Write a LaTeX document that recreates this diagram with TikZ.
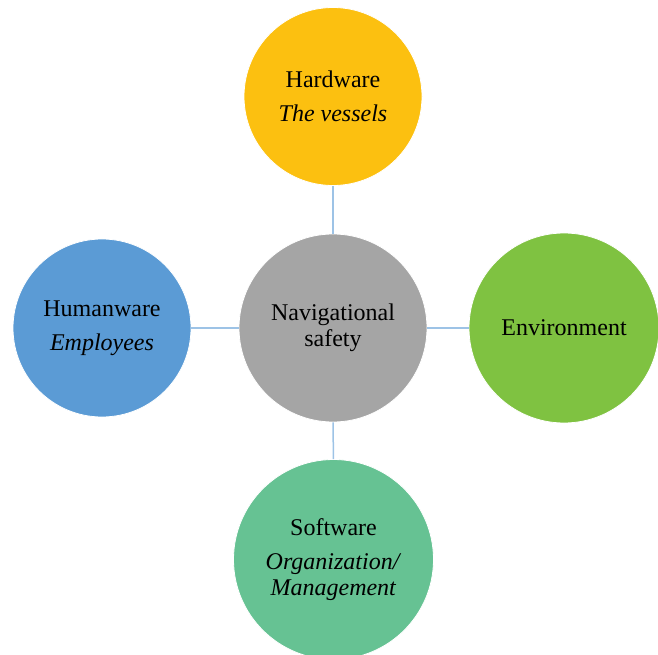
\documentclass[tikz,border=0pt]{standalone}
\usepackage{fontspec}
\setmainfont{Liberation Serif}
\usetikzlibrary{positioning}
\definecolor{hardyellow}{HTML}{FCC010}
\definecolor{navgray}{HTML}{A5A5A5}
\definecolor{humanblue}{HTML}{5B9BD5}
\definecolor{envgreen}{HTML}{7FC241}
\definecolor{softgreen}{HTML}{66C293}
\definecolor{linkblue}{HTML}{9DC3E6}
\tikzset{bubble/.style={circle, draw=white, line width=0.8pt, inner sep=0pt, align=center, text=black, font=\fontsize{24}{25.5}\selectfont},
         link/.style={draw=linkblue, line width=1.5pt}}

\begin{document}
\begin{tikzpicture}[x=1pt,y=1pt]
        \useasboundingbox (0,0) rectangle (658,654);

        \node[bubble, fill=navgray, minimum size=188] (nav) at (333,326) {Navigational\\safety};
        \node[bubble, fill=hardyellow, minimum size=178] (hard) at (333,557.5) {Hardware\\[8.5pt]\textit{The vessels}};
        \node[bubble, fill=humanblue, minimum size=178] (human) at (102,326) {Humanware\\[8pt]\textit{Employees}};
        \node[bubble, fill=envgreen, minimum size=190] (env) at (564,326) {Environment};
        \node[bubble, fill=softgreen, minimum size=200] (soft) at (333.5,94.5) {Software\\[8.5pt]\textit{Organization/}\\\textit{Management}};

        \draw[link] (hard) -- (nav);
        \draw[link] (human) -- (nav);
        \draw[link] (nav) -- (env);
        \draw[link] (nav) -- (soft);
\end{tikzpicture}
\end{document}
